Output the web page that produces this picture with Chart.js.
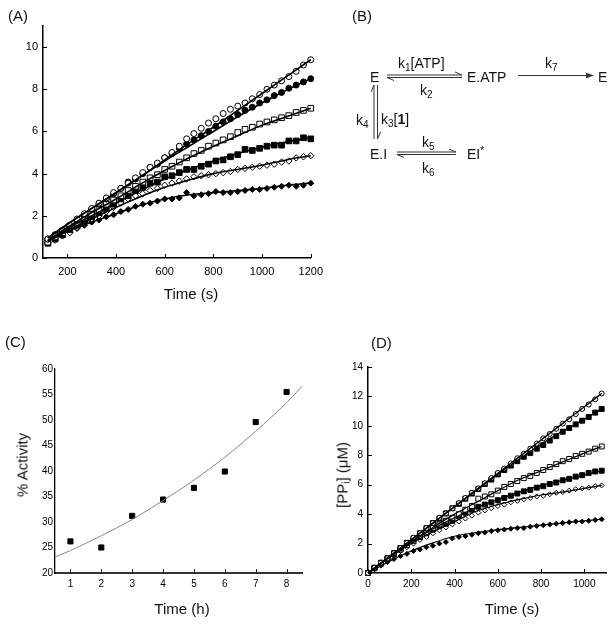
<!DOCTYPE html>
<html>
<head>
<meta charset="utf-8">
<script src="https://cdn.jsdelivr.net/npm/chart.js@4.4.0/dist/chart.umd.min.js"></script>
<style>
  body { margin: 0; background: #fff; }
  #page { position: relative; width: 614px; height: 624px; font-family: "Liberation Sans", Arial, sans-serif; color: #111; }
  canvas { position: absolute; }
  .t { position: absolute; transform: translateY(-50%); font-size: 14px; line-height: 1; white-space: nowrap; }
  .panel { position: absolute; transform: translateY(-50%); font-size: 15px; line-height: 1; }
  .ttl { position: absolute; transform: translate(-50%, -50%); font-size: 15px; line-height: 1; white-space: nowrap; }
  .rot { transform: translate(-50%, -50%) rotate(-90deg); }
  .s { font-size: 10px; position: relative; top: 3px; }
  .u { font-size: 10px; position: relative; top: -5px; }
</style>
</head>
<body>
<div id="page">
  <canvas id="chartA" width="330" height="310" style="left:0;top:0"></canvas>
  <canvas id="chartC" width="307" height="314" style="left:0;top:310px"></canvas>
  <canvas id="chartD" width="307" height="314" style="left:307px;top:310px"></canvas>

  <div class="panel" style="left:8px;top:15px">(A)</div>
  <div class="panel" style="left:352px;top:15px">(B)</div>
  <div class="panel" style="left:5px;top:341px">(C)</div>
  <div class="panel" style="left:371px;top:342px">(D)</div>

  <div class="ttl" style="left:191px;top:293px">Time (s)</div>
  <div class="ttl" style="left:182px;top:608px">Time (h)</div>
  <div class="ttl rot" style="left:22px;top:465px">% Activity</div>
  <div class="ttl" style="left:512px;top:608px">Time (s)</div>
  <div class="ttl rot" style="left:342px;top:475px">[PP<span class="s" style="top:2px">i</span>] (μM)</div>

  <!-- (B) kinetic scheme -->
  <svg width="614" height="200" style="position:absolute;left:0;top:0">
    <g stroke="#333" stroke-width="1" fill="none">
      <path d="M387 75 H462 M462 75 L455 72"/>
      <path d="M462 77.5 H387 M387 77.5 L394 80.5"/>
      <path d="M374 139 V85 M374 85 L371 92"/>
      <path d="M377.5 85 V139 M377.5 139 L380.5 132"/>
      <path d="M397 152 H456 M456 152 L449 149"/>
      <path d="M456 154.5 H397 M397 154.5 L404 157.5"/>
      <path d="M518 75.5 H588"/>
    </g>
    <path d="M594 75.5 L586 72.8 L586 78.2 Z" fill="#333"/>
  </svg>
  <div class="t" style="left:370px;top:77px">E</div>
  <div class="t" style="left:398px;top:63px">k<span class="s">1</span>[ATP]</div>
  <div class="t" style="left:420px;top:90px">k<span class="s">2</span></div>
  <div class="t" style="left:467px;top:77px">E.ATP</div>
  <div class="t" style="left:545px;top:63px">k<span class="s">7</span></div>
  <div class="t" style="left:598px;top:77px">E</div>
  <div class="t" style="left:356px;top:120px">k<span class="s">4</span></div>
  <div class="t" style="left:381px;top:119px">k<span class="s">3</span>[<b>1</b>]</div>
  <div class="t" style="left:370px;top:154px">E.I</div>
  <div class="t" style="left:422px;top:142px">k<span class="s">5</span></div>
  <div class="t" style="left:422px;top:168px">k<span class="s">6</span></div>
  <div class="t" style="left:467px;top:154px">EI<span class="u">*</span></div>
</div>

<script>
// ---- panel A data ----
const timeA = [120, 150, 180, 210, 240, 270, 300, 330, 360, 390, 420, 450, 480, 510, 540, 570, 600, 630, 660,
  690, 720, 750, 780, 810, 840, 870, 900, 930, 960, 990, 1020, 1050, 1080, 1110, 1140, 1170, 1200];
const aOpenCircle = [0.9, 1.1, 1.3, 1.55, 1.85, 2.1, 2.35, 2.6, 2.85, 3.1, 3.3, 3.55, 3.8, 4.05, 4.3, 4.5, 4.75, 5.0, 5.3,
  5.65, 5.9, 6.15, 6.4, 6.6, 6.85, 7.05, 7.2, 7.35, 7.55, 7.75, 8.0, 8.2, 8.4, 8.6, 8.85, 9.15, 9.4];
const aFilledCircle = [0.9, 1.1, 1.3, 1.55, 1.8, 2.05, 2.3, 2.55, 2.8, 3.05, 3.3, 3.6, 3.75, 4.0, 4.3, 4.45, 4.75, 4.95, 5.2,
  5.4, 5.6, 5.8, 6.0, 6.25, 6.45, 6.6, 6.8, 7.0, 7.15, 7.35, 7.5, 7.7, 7.85, 8.05, 8.2, 8.35, 8.5];
const aOpenSquare = [0.75, 1.0, 1.2, 1.45, 1.65, 1.9, 2.1, 2.3, 2.55, 2.75, 2.95, 3.2, 3.4, 3.6, 3.8, 3.95, 4.2, 4.35, 4.55,
  4.75, 4.95, 5.1, 5.3, 5.45, 5.6, 5.75, 5.95, 6.1, 6.2, 6.35, 6.45, 6.55, 6.65, 6.75, 6.9, 7.0, 7.1];
const aFilledSquare = [0.7, 0.9, 1.1, 1.35, 1.55, 1.75, 1.95, 2.15, 2.35, 2.55, 2.8, 2.95, 3.2, 3.35, 3.55, 3.6, 3.85, 3.9, 4.05,
  4.2, 4.2, 4.35, 4.45, 4.6, 4.65, 4.8, 4.9, 5.15, 5.1, 5.2, 5.3, 5.35, 5.35, 5.55, 5.55, 5.7, 5.65];
const aOpenDiamond = [0.75, 0.85, 1.05, 1.2, 1.45, 1.65, 1.85, 2.0, 2.2, 2.4, 2.6, 2.8, 2.95, 3.05, 3.2, 3.3, 3.45, 3.55, 3.65,
  3.75, 3.85, 3.9, 3.95, 4.0, 4.05, 4.1, 4.2, 4.25, 4.3, 4.35, 4.4, 4.45, 4.55, 4.6, 4.75, 4.8, 4.85];
const aFilledDiamond = [0.7, 0.9, 1.05, 1.2, 1.4, 1.55, 1.7, 1.8, 1.95, 2.05, 2.2, 2.3, 2.45, 2.55, 2.6, 2.7, 2.8, 2.8, 2.85,
  3.1, 2.95, 3.0, 3.05, 3.15, 3.1, 3.1, 3.15, 3.2, 3.25, 3.25, 3.3, 3.35, 3.4, 3.45, 3.4, 3.45, 3.55];
// fitted curves
const fitTimeA = [120, 200, 300, 400, 500, 600, 700, 800, 900, 1000, 1100, 1200];
const aFit1 = [0.95, 1.6, 2.35, 3.1, 3.85, 4.65, 5.45, 6.2, 7.0, 7.8, 8.6, 9.4];
const aFit2 = [0.95, 1.6, 2.35, 3.1, 3.85, 4.6, 5.3, 6.0, 6.7, 7.35, 7.95, 8.5];
const aFit3 = [0.85, 1.45, 2.15, 2.8, 3.5, 4.15, 4.75, 5.3, 5.8, 6.3, 6.7, 7.1];
const aFit4 = [0.8, 1.4, 2.0, 2.6, 3.2, 3.75, 4.2, 4.6, 4.95, 5.25, 5.5, 5.7];
const aFit5 = [0.8, 1.3, 1.85, 2.4, 2.9, 3.35, 3.7, 4.0, 4.2, 4.4, 4.65, 4.85];
const aFit6 = [0.8, 1.25, 1.7, 2.1, 2.5, 2.8, 3.0, 3.1, 3.2, 3.3, 3.45, 3.55];
const ticksAX = [200, 400, 600, 800, 1000, 1200];
const ticksAY = [0, 2, 4, 6, 8, 10];

// ---- panel C data ----
const hoursC = [1, 2, 3, 4, 5, 6, 7, 8];
const activityC = [26.2, 25.0, 31.2, 34.4, 36.7, 39.9, 49.6, 55.5];
const fitHoursC = [0.5, 1, 2, 3, 4, 5, 6, 7, 8, 8.5];
const fitActivityC = [23.1, 24.4, 27.3, 30.5, 34.2, 38.2, 42.7, 47.8, 53.4, 56.6];
const ticksCX = [1, 2, 3, 4, 5, 6, 7, 8];
const ticksCY = [20, 25, 30, 35, 40, 45, 50, 55, 60];

// ---- panel D data ----
const timeD = [0, 30, 60, 90, 120, 150, 180, 210, 240, 270, 300, 330, 360, 390, 420, 450, 480, 510, 540,
  570, 600, 630, 660, 690, 720, 750, 780, 810, 840, 870, 900, 930, 960, 990, 1020, 1050, 1080];
const dOpenCircle = [0, 0.35, 0.7, 1.0, 1.35, 1.7, 2.05, 2.4, 2.7, 3.05, 3.4, 3.75, 4.05, 4.4, 4.75, 5.1, 5.45, 5.75, 6.1,
  6.45, 6.8, 7.1, 7.45, 7.8, 8.1, 8.45, 8.8, 9.15, 9.45, 9.8, 10.15, 10.45, 10.8, 11.15, 11.45, 11.8, 12.2];
const dFilledSquare1 = [0, 0.35, 0.7, 1.0, 1.35, 1.7, 2.05, 2.35, 2.7, 3.05, 3.4, 3.7, 4.05, 4.4, 4.7, 5.05, 5.4, 5.7, 6.05,
  6.35, 6.7, 7.0, 7.3, 7.6, 7.9, 8.15, 8.45, 8.7, 9.0, 9.3, 9.6, 9.85, 10.1, 10.35, 10.6, 10.9, 11.15];
const dOpenSquare = [0, 0.35, 0.65, 1.0, 1.3, 1.6, 1.9, 2.2, 2.5, 2.75, 3.05, 3.3, 3.55, 3.75, 4.0, 4.3, 4.55, 5.05, 5.2,
  5.35, 5.6, 5.85, 6.05, 6.25, 6.45, 6.6, 6.8, 7.0, 7.2, 7.4, 7.6, 7.75, 7.95, 8.1, 8.25, 8.45, 8.6];
const dFilledSquare2 = [0, 0.35, 0.65, 0.95, 1.3, 1.6, 1.9, 2.2, 2.45, 2.7, 2.95, 3.2, 3.35, 3.55, 3.85, 4.1, 4.3, 4.5, 4.65,
  4.8, 4.95, 5.1, 5.25, 5.4, 5.55, 5.65, 5.8, 5.9, 6.05, 6.15, 6.3, 6.4, 6.55, 6.65, 6.8, 6.9, 6.95];
const dOpenDiamond = [0, 0.3, 0.6, 0.9, 1.2, 1.5, 1.75, 2.0, 2.25, 2.45, 2.7, 2.9, 3.1, 3.3, 3.5, 3.7, 3.9, 4.1, 4.25,
  4.4, 4.55, 4.65, 4.8, 4.9, 5.0, 5.1, 5.2, 5.25, 5.35, 5.45, 5.5, 5.6, 5.7, 5.75, 5.8, 5.9, 5.95];
const dFilledDiamond = [0, 0.25, 0.5, 0.75, 0.95, 1.15, 1.3, 1.5, 1.6, 1.75, 1.85, 2.0, 2.1, 2.35, 2.45, 2.5, 2.6, 2.7, 2.75,
  2.85, 2.9, 2.95, 3.0, 3.05, 3.05, 3.15, 3.2, 3.25, 3.3, 3.35, 3.4, 3.45, 3.5, 3.5, 3.55, 3.6, 3.65];
const fitTimeD = [0, 100, 200, 300, 400, 500, 600, 700, 800, 900, 1000, 1080];
const dFit1 = [0, 1.13, 2.26, 3.39, 4.52, 5.65, 6.78, 7.91, 9.04, 10.17, 11.3, 12.2];
const dFit2 = [0, 1.13, 2.26, 3.39, 4.5, 5.6, 6.7, 7.75, 8.75, 9.65, 10.45, 11.15];
const dFit3 = [0, 1.1, 2.15, 3.1, 4.0, 4.8, 5.6, 6.35, 6.95, 7.55, 8.15, 8.6];
const dFit4 = [0, 1.1, 2.1, 3.0, 3.75, 4.45, 5.0, 5.5, 5.95, 6.3, 6.65, 6.95];
const dFit5 = [0, 1.05, 2.0, 2.8, 3.5, 4.2, 4.65, 5.0, 5.3, 5.5, 5.75, 5.95];
const dFit6 = [0, 0.8, 1.5, 2.05, 2.5, 2.75, 2.95, 3.1, 3.25, 3.4, 3.55, 3.65];
const ticksDX = [0, 200, 400, 600, 800, 1000];
const ticksDY = [0, 2, 4, 6, 8, 10, 12, 14];

const FONT = '"Liberation Sans", Arial, sans-serif';

const pts = (xs, ys) => xs.map((x, i) => ({ x: x, y: ys[i] }));

function marker(xs, ys, style, filled, r) {
  return {
    data: pts(xs, ys),
    pointStyle: style,
    pointRadius: r,
    pointBackgroundColor: filled ? '#000' : '#fff',
    pointBorderColor: '#000',
    pointBorderWidth: 1,
    showLine: false,
    clip: false
  };
}

function fitLine(xs, ys, width, color) {
  return {
    data: pts(xs, ys),
    showLine: true,
    borderColor: color,
    borderWidth: width,
    pointRadius: 0,
    cubicInterpolationMode: 'monotone',
    fill: false,
    clip: false
  };
}

// tick marks pointing into the plot area
const innerTicks = {
  id: 'innerTicks',
  afterDatasetsDraw(chart, args, opts) {
    const { ctx, chartArea, scales } = chart;
    ctx.save();
    ctx.strokeStyle = opts.color || '#000';
    ctx.lineWidth = 1;
    if (opts.x) {
      scales.x.ticks.forEach(t => {
        const px = Math.round(scales.x.getPixelForValue(t.value)) + 0.5;
        ctx.beginPath();
        ctx.moveTo(px, chartArea.bottom);
        ctx.lineTo(px, chartArea.bottom - opts.x);
        ctx.stroke();
      });
    }
    if (opts.y) {
      scales.y.ticks.forEach(t => {
        const py = Math.round(scales.y.getPixelForValue(t.value)) + 0.5;
        ctx.beginPath();
        ctx.moveTo(chartArea.left, py);
        ctx.lineTo(chartArea.left + opts.y, py);
        ctx.stroke();
      });
    }
    ctx.restore();
  }
};

function axis(min, max, ticks, size, fontSize, pad, border) {
  return {
    type: 'linear',
    min: min,
    max: max,
    afterBuildTicks: s => { s.ticks = ticks.map(v => ({ value: v })); },
    afterFit: s => { if (s.isHorizontal()) s.height = size; else s.width = size; },
    grid: { display: false, drawTicks: false },
    border: border,
    ticks: {
      color: '#000',
      font: { size: fontSize, family: FONT },
      padding: pad,
      maxRotation: 0,
      autoSkip: false,
      callback: v => String(v)
    }
  };
}

function makeChart(id, datasets, padding, scales, tickOpts) {
  return new Chart(document.getElementById(id), {
    type: 'scatter',
    data: { datasets: datasets },
    options: {
      responsive: false,
      animation: false,
      layout: { padding: padding },
      plugins: { legend: { display: false }, tooltip: { enabled: false }, innerTicks: tickOpts },
      scales: scales
    },
    plugins: [innerTicks]
  });
}

// (A)
makeChart('chartA', [
  fitLine(fitTimeA, aFit1, 1.6, '#000'),
  fitLine(fitTimeA, aFit2, 1.6, '#000'),
  fitLine(fitTimeA, aFit3, 1.6, '#000'),
  fitLine(fitTimeA, aFit4, 1.6, '#000'),
  fitLine(fitTimeA, aFit5, 1.6, '#000'),
  fitLine(fitTimeA, aFit6, 1.6, '#000'),
  marker(timeA, aOpenCircle, 'circle', false, 3),
  marker(timeA, aFilledCircle, 'circle', true, 3),
  marker(timeA, aOpenSquare, 'rect', false, 4),
  marker(timeA, aFilledSquare, 'rect', true, 4),
  marker(timeA, aOpenDiamond, 'rectRot', false, 3.2),
  marker(timeA, aFilledDiamond, 'rectRot', true, 3)
], { top: 26, right: 19, left: 0, bottom: 0 }, {
  x: axis(100, 1200, ticksAX, 52, 11, 7, { color: '#000', width: 1.5 }),
  y: axis(0, 11, ticksAY, 43, 11, 5, { color: '#000', width: 1.5 })
}, { x: 4, y: 4 });

// (C)
makeChart('chartC', [
  fitLine(fitHoursC, fitActivityC, 1, '#888'),
  marker(hoursC, activityC, 'rect', true, 3.6)
], { top: 59, right: 5, left: 0, bottom: 0 }, {
  x: axis(0.5, 8.5, ticksCX, 51, 10, 5, { color: '#333', width: 2 }),
  y: axis(20, 60, ticksCY, 55, 10, 2, { color: '#000', width: 1.3 })
}, { x: 4, color: '#222' });

// (D)
makeChart('chartD', [
  fitLine(fitTimeD, dFit1, 1.4, '#000'),
  fitLine(fitTimeD, dFit2, 1.4, '#000'),
  fitLine(fitTimeD, dFit3, 1.2, '#000'),
  fitLine(fitTimeD, dFit4, 1.2, '#000'),
  fitLine(fitTimeD, dFit5, 1.2, '#000'),
  fitLine(fitTimeD, dFit6, 1.2, '#000'),
  marker(timeD, dOpenCircle, 'circle', false, 2.5),
  marker(timeD, dFilledSquare1, 'rect', true, 3.5),
  marker(timeD, dOpenSquare, 'rect', false, 3.5),
  marker(timeD, dFilledSquare2, 'rect', true, 3.5),
  marker(timeD, dOpenDiamond, 'rectRot', false, 2.5),
  marker(timeD, dFilledDiamond, 'rectRot', true, 2.5)
], { top: 57, right: 8, left: 0, bottom: 0 }, {
  x: axis(0, 1100, ticksDX, 51, 10, 5, { color: '#000', width: 1.5 }),
  y: axis(0, 14, ticksDY, 61, 10, 5, { color: '#000', width: 1.5 })
}, { x: 4, y: 4 });
</script>
</body>
</html>
